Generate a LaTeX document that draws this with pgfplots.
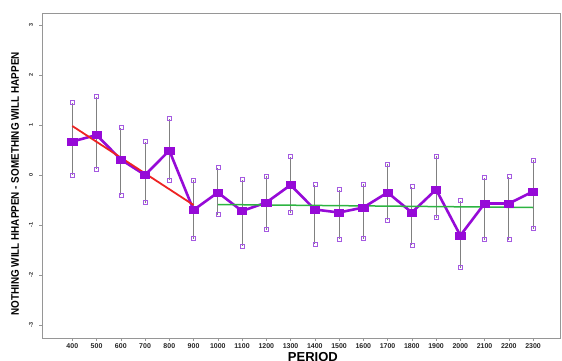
\documentclass[border=0pt]{standalone}
\usepackage{fontspec}
\setmainfont{Liberation Sans}
\newfontfamily\narrowfont[FakeStretch=0.9]{Liberation Sans}
\usepackage{pgfplots}
\pgfplotsset{compat=1.18}
\usepackage{pgfplotstable}
\usetikzlibrary{calc}
\definecolor{pmain}{RGB}{150,10,215}
\definecolor{pcap}{RGB}{165,90,225}
\definecolor{rline}{RGB}{238,35,35}
\definecolor{gline}{RGB}{45,180,65}
\definecolor{frame}{RGB}{150,150,150}

\pgfplotstableread{
x    y      ep    em
400  0.67   0.78  0.67
500  0.80   0.77  0.68
600  0.31   0.64  0.71
700  0.00   0.67  0.55
800  0.49   0.64  0.59
900  -0.70  0.60  0.57
1000 -0.35  0.50  0.44
1100 -0.72  0.63  0.70
1200 -0.55  0.53  0.54
1300 -0.20  0.57  0.55
1400 -0.69  0.50  0.69
1500 -0.75  0.46  0.53
1600 -0.65  0.47  0.62
1700 -0.35  0.57  0.55
1800 -0.75  0.52  0.65
1900 -0.29  0.67  0.56
2000 -1.21  0.70  0.64
2100 -0.57  0.52  0.72
2200 -0.57  0.54  0.72
2300 -0.33  0.63  0.74
}\datatable

\begin{document}
\begin{tikzpicture}
\begin{axis}[
  scale only axis, width=518pt, height=325pt,
  xmin=275, xmax=2411, ymin=-3.26, ymax=3.24,
  axis line style={frame, line width=0.8pt},
  xtick={400,500,...,2300}, ytick={-3,-2,...,3},
  tick align=outside, tick pos=left, major tick length=2.5pt,
  tick style={frame, line width=0.6pt},
  /pgf/number format/assume math mode=true,
  /pgf/number format/1000 sep={},
  xticklabel style={font=\bfseries\fontsize{7}{8}\selectfont, text=black!85},
  yticklabel style={rotate=90, font=\bfseries\fontsize{5.5}{6}\selectfont, text=black!85, anchor=south, yshift=3pt},
  xlabel={PERIOD},
  xlabel style={font=\bfseries\fontsize{13}{14}\selectfont, at={(axis description cs:0.523,-0.060)}, anchor=center},
  ylabel={NOTHING WILL HHAPPEN - SOMETHING WILL HAPPEN},
  ylabel style={font=\narrowfont\bfseries\fontsize{11}{12}\selectfont, at={(axis description cs:-0.052,0.474)}, anchor=center, rotate=0},
]
\addplot[pmain, line width=2.6pt, mark=square*, mark size=3.3pt,
  mark options={line width=0.5pt, xscale=1.4, solid, fill=pmain},
  error bars/.cd, y dir=both, y explicit,
  error bar style={frame!85!black, line width=0.8pt},
  error mark=square,
  error mark options={draw=pcap, line width=0.5pt, mark size=2pt, rotate=0}]
  table[x=x, y=y, y error plus=ep, y error minus=em] {\datatable};
\addplot[rline, line width=1.8pt] coordinates {(400,0.98) (900,-0.60)};
\addplot[gline, line width=1.5pt] coordinates {(1000,-0.59) (2300,-0.65)};
\end{axis}
\pgfresetboundingbox
\path ($(current axis.south west)+(-42pt,-22pt)$) rectangle ($(current axis.north east)+(2pt,13pt)$);
\end{tikzpicture}
\end{document}
